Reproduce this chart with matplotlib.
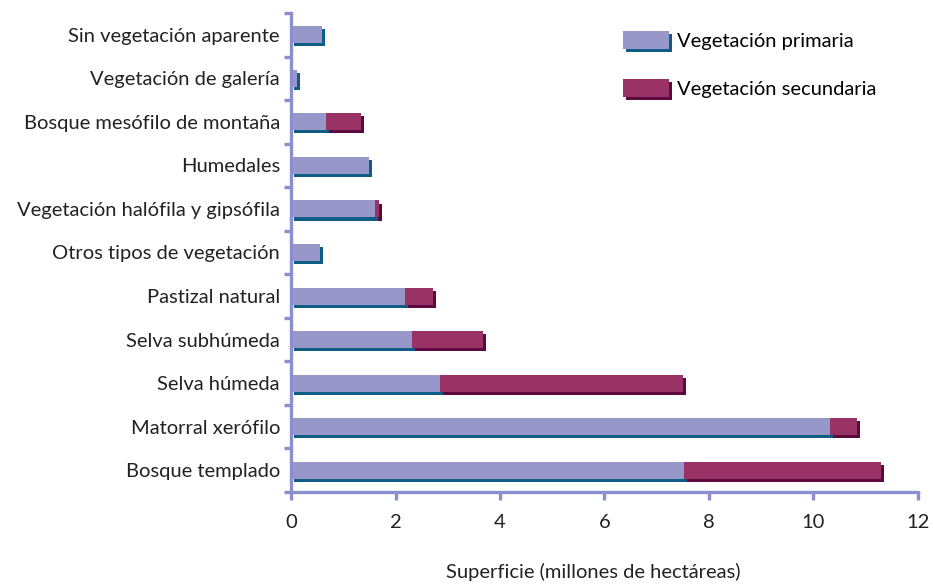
import matplotlib
matplotlib.use("Agg")
import matplotlib.pyplot as plt
import matplotlib.patheffects as pe
import numpy as np

categorias = ["Bosque templado", "Matorral xerófilo", "Selva húmeda", "Selva subhúmeda",
              "Pastizal natural", "Otros tipos de vegetación", "Vegetación halófila y gipsófila",
              "Humedales", "Bosque mesófilo de montaña", "Vegetación de galería",
              "Sin vegetación aparente"]
primaria = [7.52, 10.32, 2.85, 2.32, 2.18, 0.55, 1.60, 1.50, 0.67, 0.11, 0.60]
secundaria = [3.77, 0.51, 4.65, 1.35, 0.54, 0.0, 0.08, 0.0, 0.67, 0.0, 0.0]
xticks = [0, 2, 4, 6, 8, 10, 12]

c_prim = "#9797CA"
c_prim_sh = "#0F5C85"
c_sec = "#993366"
c_sec_sh = "#5E0A3E"
c_axis = "#8C8FCF"

plt.rcParams['font.family'] = ['Lato', 'DejaVu Sans']
plt.rcParams['font.size'] = 14.5

fig = plt.figure(figsize=(9.33, 5.84), dpi=100)
ax = fig.add_axes([291 / 933, 92 / 584, 627 / 933, 479 / 584])

y = np.arange(len(categorias))
sh = 2.2  # shadow offset in points
eff_p = [pe.SimplePatchShadow(offset=(sh, -sh), shadow_rgbFace=c_prim_sh, alpha=1.0), pe.Normal()]
eff_s = [pe.SimplePatchShadow(offset=(sh, -sh), shadow_rgbFace=c_sec_sh, alpha=1.0), pe.Normal()]

bp = ax.barh(y, primaria, height=0.39, color=c_prim, label="Vegetación primaria")
for b in bp:
    b.set_path_effects(eff_p)
bs = ax.barh(y, secundaria, left=primaria, height=0.39, color=c_sec, label="Vegetación secundaria")
for b, v in zip(bs, secundaria):
    if v > 0:
        b.set_path_effects(eff_s)
    else:
        b.set_visible(False)

ax.set_xlim(0, 12)
ax.set_ylim(-0.5, len(categorias) - 0.5)
ax.set_xticks(xticks)
ax.set_xticklabels([str(t) for t in xticks])
ax.set_yticks(y)
ax.set_yticklabels(categorias)
ax.set_yticks(np.arange(len(categorias) + 1) - 0.5, minor=True)

for s in ["top", "right"]:
    ax.spines[s].set_visible(False)
for s in ["left", "bottom"]:
    ax.spines[s].set_color(c_axis)
    ax.spines[s].set_linewidth(2.4)

ax.tick_params(axis='y', which='major', length=0, pad=8, colors="#222222")
ax.tick_params(axis='y', which='minor', length=5, width=2.4, color=c_axis, direction='out')
ax.tick_params(axis='x', which='major', length=6, width=2.4, color=c_axis, labelcolor="#222222", pad=10)

ax.set_xlabel("Superficie (millones de hectáreas)", color="#222222", va="center")
ax.xaxis.set_label_coords((593 - 291) / 627, -(572 - 492) / 479)

leg_p = plt.Rectangle((0, 0), 1, 1, facecolor=c_prim, path_effects=eff_p)
leg_s = plt.Rectangle((0, 0), 1, 1, facecolor=c_sec, path_effects=eff_s)
ax.legend([leg_p, leg_s], ["Vegetación primaria", "Vegetación secundaria"],
          loc="upper left", bbox_to_anchor=(0.5, 1.0), frameon=False,
          handlelength=2.3, handleheight=1.0, labelspacing=1.45, handletextpad=0.4)

fig.savefig("out.png", dpi=100)
